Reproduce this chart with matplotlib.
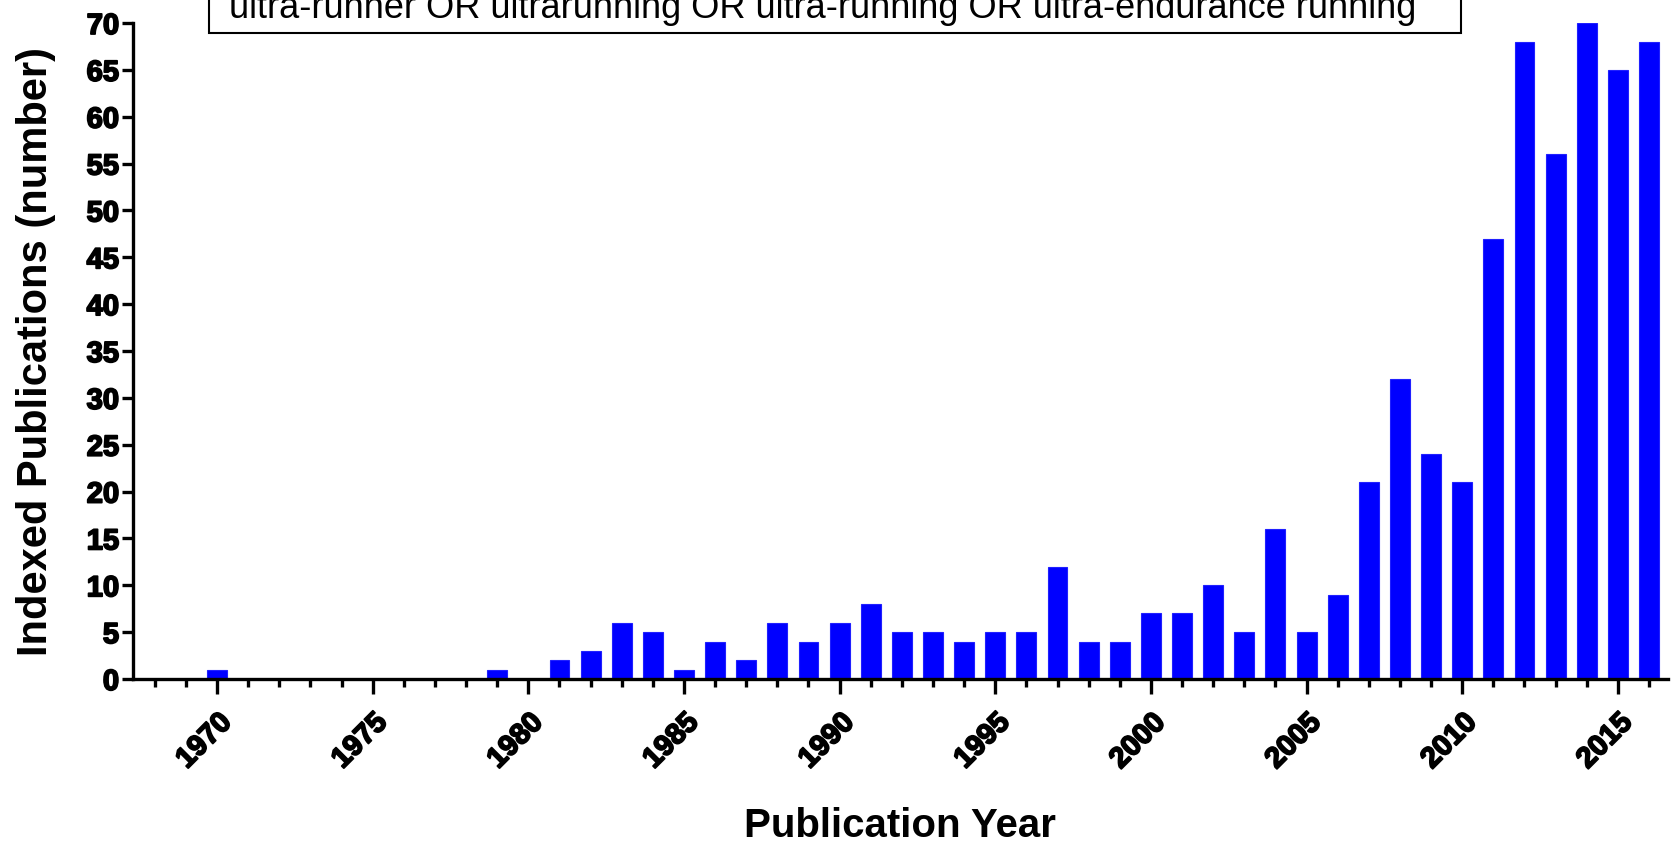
import matplotlib
matplotlib.use("agg")
import matplotlib.pyplot as plt
import matplotlib.patheffects as pe
from matplotlib.patches import Rectangle
from matplotlib.ticker import MultipleLocator

# publications per year
years = list(range(1968, 2017))
counts = [0, 0, 1, 0, 0, 0, 0, 0, 0, 0, 0, 1, 0, 2, 3, 6, 5, 1, 4, 2,
          6, 4, 6, 8, 5, 5, 4, 5, 5, 12, 4, 4, 7, 7, 10, 5, 16, 5, 9, 21,
          32, 24, 21, 47, 68, 56, 70, 65, 68]
query = 'ultra-runner OR ultrarunning OR ultra-running OR ultra-endurance running"'

plt.rcParams['font.family'] = ['Liberation Sans', 'DejaVu Sans']
heavy = [pe.withStroke(linewidth=1.3, foreground='black')]

fig = plt.figure(figsize=(16.71, 8.52), dpi=100)
ax = fig.add_axes([133 / 1671, 1 - 679 / 852, 1 - 133 / 1671 - 0.002, (679 - 23) / 852])

ax.bar(years, counts, width=0.64, color='#0000ff', edgecolor='#2020ff', linewidth=0.8, zorder=2)

ax.set_xlim(1967.3, 2016.6)
ax.set_ylim(0, 70)
ax.xaxis.set_major_locator(MultipleLocator(5))
ax.xaxis.set_minor_locator(MultipleLocator(1))
ax.yaxis.set_major_locator(MultipleLocator(5))

for s in ['top', 'right']:
    ax.spines[s].set_visible(False)
for s in ['left', 'bottom']:
    ax.spines[s].set_linewidth(2.4)

ax.tick_params(axis='x', which='major', direction='out', length=11, width=2.4, pad=10)
ax.tick_params(axis='x', which='minor', direction='out', length=6, width=2.4)
ax.tick_params(axis='y', which='major', direction='out', length=8, width=2.4, pad=2)

for lab in ax.get_xticklabels():
    lab.set_rotation(45)
    lab.set_ha('right')
    lab.set_rotation_mode('anchor')
    lab.set_fontsize(21)
    lab.set_fontweight('bold')
    lab.set_path_effects(heavy)
for lab in ax.get_yticklabels():
    lab.set_fontsize(21)
    lab.set_fontweight('bold')
    lab.set_path_effects(heavy)

ax.set_xlabel('Publication Year', fontsize=29, fontweight='bold', labelpad=24)
ax.set_ylabel('Indexed Publications (number)', fontsize=30, fontweight='bold', labelpad=22)

# query box clipped at the top of the figure
fig.patches.append(Rectangle((209 / 1671, 1 - 33 / 852), 1252 / 1671, 0.2,
                             transform=fig.transFigure, facecolor='white',
                             edgecolor='black', linewidth=1.5, zorder=3))
fig.text(829 / 1671, 1 - 18 / 852, query, ha='center', va='baseline',
         fontsize=26, zorder=4)

fig.savefig('out.png', dpi=100)
